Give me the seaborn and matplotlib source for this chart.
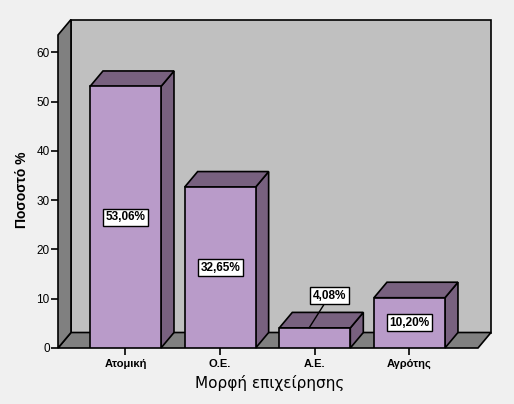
import numpy as np
import seaborn as sns
import matplotlib.pyplot as plt
from matplotlib.patches import Polygon

# Data
categories = ["Ατομική", "Ο.Ε.", "Α.Ε.", "Αγρότης"]
percent = [53.06, 32.65, 4.08, 10.20]
labels = ["53,06%", "32,65%", "4,08%", "10,20%"]
y_ticks = [0, 10, 20, 30, 40, 50, 60]

FRONT = "#b99bc9"
DARK = "#78617f"
WALL = "#c0c0c0"
SIDE = "#808080"
BG = "#f0f0f0"

sns.set_style("white")
plt.rcParams["font.family"] = ["Liberation Sans", "DejaVu Sans"]
plt.rcParams["text.color"] = "black"
plt.rcParams["xtick.color"] = "black"
plt.rcParams["ytick.color"] = "black"
plt.rcParams["xtick.labelcolor"] = "black"
plt.rcParams["ytick.labelcolor"] = "black"

fig = plt.figure(figsize=(5.14, 4.04), dpi=100, facecolor=BG)
# axes = front plane of the 3d box
W, H = 514, 404
ax = fig.add_axes([58 / W, (H - 348) / H, 420 / W, 313 / H])
ax.set_facecolor("none")

sns.barplot(x=categories, y=percent, color=FRONT, edgecolor="black",
            linewidth=1.2, width=0.75, saturation=1, ax=ax, zorder=5)

x0, x1 = -0.713, 3.724
ytop = 63.5
ax.set_xlim(x0, x1)
ax.set_ylim(0, ytop)

# depth offset in data units (13 px right, 15.5 px up)
dx = 13 / 94.67
dy = 15.5 / 4.93

def poly(pts, fc, z):
    p = Polygon(pts, closed=True, facecolor=fc, edgecolor="black",
                linewidth=1.2, clip_on=False, zorder=z)
    ax.add_patch(p)

# back wall, floor, left wall
poly([(x0 + dx, dy), (x1 + dx, dy), (x1 + dx, ytop + dy), (x0 + dx, ytop + dy)], WALL, 1)
poly([(x0, 0), (x1, 0), (x1 + dx, dy), (x0 + dx, dy)], SIDE, 2)
poly([(x0, 0), (x0, ytop), (x0 + dx, ytop + dy), (x0 + dx, dy)], SIDE, 2)

# 3d faces for each bar
for i, bar in enumerate(ax.patches[:len(categories)]):
    bx, bw, bh = bar.get_x(), bar.get_width(), bar.get_height()
    poly([(bx + bw, 0), (bx + bw, bh), (bx + bw + dx, bh + dy), (bx + bw + dx, dy)], DARK, 4)
    poly([(bx, bh), (bx + bw, bh), (bx + bw + dx, bh + dy), (bx + dx, bh + dy)], DARK, 4)
    cx = bx + bw / 2
    box = dict(boxstyle="square,pad=0.22", fc="white", ec="black", lw=1)
    if bh > 8:
        ax.text(cx, bh / 2, labels[i], ha="center", va="center", fontsize=8.5,
                fontweight="bold", bbox=box, zorder=8)
    else:
        ax.annotate(labels[i], xy=(cx - 0.06, bh), xytext=(cx + 0.155, bh + 6.5),
                    ha="center", va="center", fontsize=8.5, fontweight="bold",
                    bbox=box, zorder=8,
                    arrowprops=dict(arrowstyle="-", color="black", lw=1,
                                    shrinkA=0, shrinkB=0))

for s in ax.spines.values():
    s.set_visible(False)

ax.set_yticks(y_ticks)
ax.tick_params(axis="y", direction="out", length=5, width=1.2, color="black",
               labelsize=8.5, pad=1, left=True)
ax.tick_params(axis="x", direction="out", length=5, width=1.2, color="black",
               labelsize=8, pad=3, bottom=True)
for t in ax.get_xticklabels():
    t.set_fontweight("bold")

ax.set_xlabel("")
ax.set_ylabel("")
fig.text(22 / W, 1 - 190 / H, "Ποσοστό %", rotation=90, ha="center", va="center",
         fontsize=10, fontweight="bold")
fig.text(270 / W, 1 - 383 / H, "Μορφή επιχείρησης", ha="center", va="center",
         fontsize=11, family=["DejaVu Sans"])

fig.savefig("out.png", dpi=100, facecolor=BG)
